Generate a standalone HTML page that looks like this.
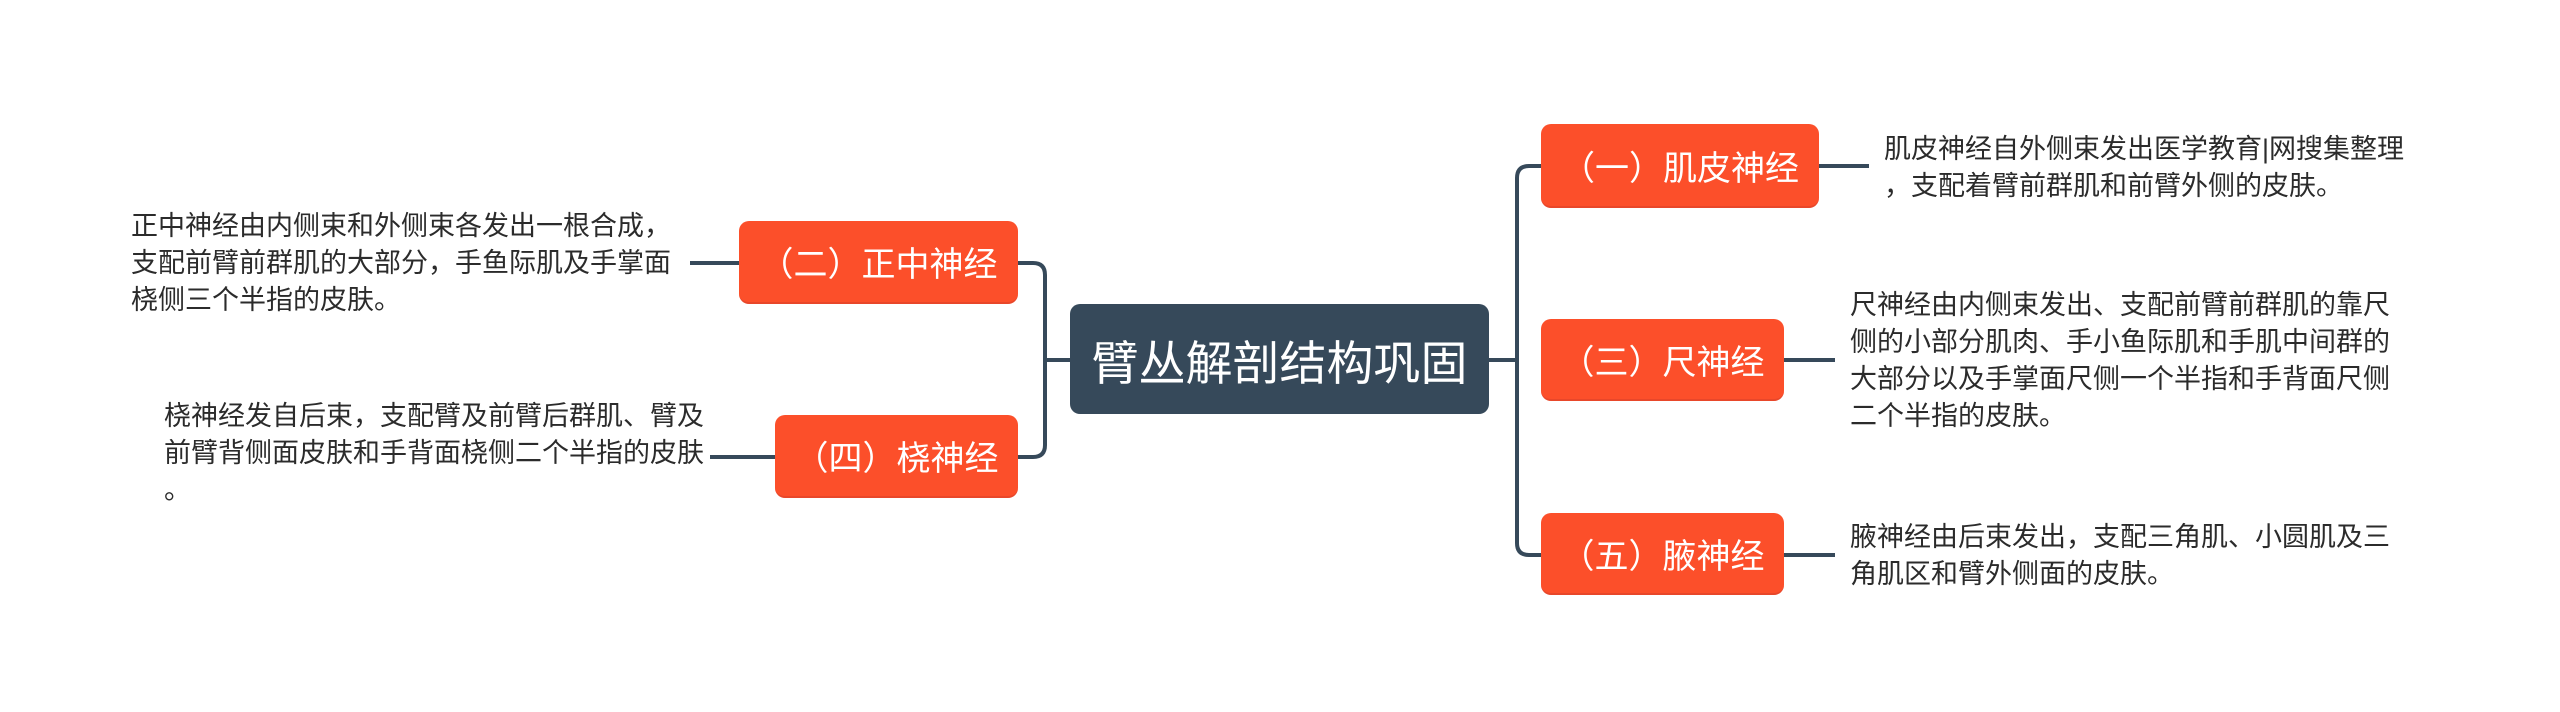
<!DOCTYPE html>
<html><head><meta charset="utf-8"><style>
body{margin:0;width:2560px;height:712px;background:#fff;position:relative;overflow:hidden;font-family:"Liberation Sans","Noto Sans CJK SC",sans-serif}
.n{position:absolute;background:#fc4f2a;color:#fff;border-radius:10px;display:flex;align-items:center;justify-content:center;font-size:34px;box-sizing:border-box;border-bottom:2px solid #e8472a}
.c{position:absolute;background:#36495a;color:#fff;border-radius:10px;display:flex;align-items:center;justify-content:center;font-size:47px}
.d{position:absolute;color:#2b2b2b;font-size:27px;line-height:37px;white-space:pre}
svg{position:absolute;left:0;top:0}
</style></head><body>
<svg width="2560" height="712" fill="none" stroke="#36495a" stroke-width="4">
<path d="M1070 360 H1045 M1018 263 H1033 Q1045 263 1045 275 V445 Q1045 457 1033 457 H1018"/>
<path d="M1489 360 H1517 M1541 166 H1529 Q1517 166 1517 178 V543 Q1517 555 1529 555 H1541"/>
<path d="M690 263 H739 M710 457 H775 M1819 166 H1869 M1784 360 H1835 M1784 555 H1835"/>
</svg>
<div class="c" style="left:1070px;top:304px;width:419px;height:110px">臂丛解剖结构巩固</div>
<div class="n" style="left:739px;top:221px;width:279px;height:83px">（二）正中神经</div>
<div class="n" style="left:775px;top:415px;width:243px;height:83px">（四）桡神经</div>
<div class="n" style="left:1541px;top:124px;width:278px;height:84px">（一）肌皮神经</div>
<div class="n" style="left:1541px;top:319px;width:243px;height:82px">（三）尺神经</div>
<div class="n" style="left:1541px;top:513px;width:243px;height:82px">（五）腋神经</div>
<div class="d" style="left:131px;top:208px">正中神经由内侧束和外侧束各发出一根合成，
支配前臂前群肌的大部分，手鱼际肌及手掌面
桡侧三个半指的皮肤。</div>
<div class="d" style="left:164px;top:398px">桡神经发自后束，支配臂及前臂后群肌、臂及
前臂背侧面皮肤和手背面桡侧二个半指的皮肤
。</div>
<div class="d" style="left:1884px;top:131px">肌皮神经自外侧束发出医学教育|网搜集整理
，支配着臂前群肌和前臂外侧的皮肤。</div>
<div class="d" style="left:1850px;top:287px">尺神经由内侧束发出、支配前臂前群肌的靠尺
侧的小部分肌肉、手小鱼际肌和手肌中间群的
大部分以及手掌面尺侧一个半指和手背面尺侧
二个半指的皮肤。</div>
<div class="d" style="left:1850px;top:519px">腋神经由后束发出，支配三角肌、小圆肌及三
角肌区和臂外侧面的皮肤。</div>
</body></html>
